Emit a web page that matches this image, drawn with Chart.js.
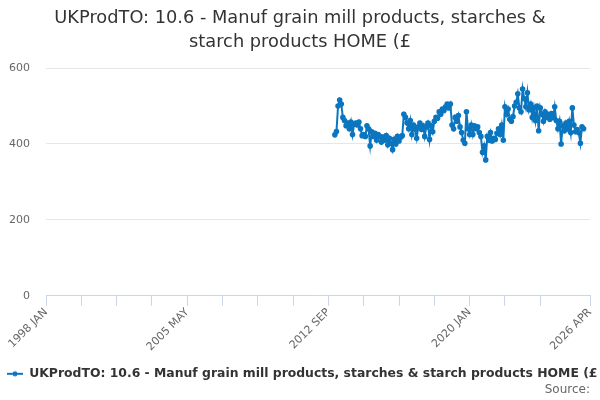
<!DOCTYPE html>
<html>
<head>
<meta charset="utf-8">
<script src="https://cdn.jsdelivr.net/npm/chart.js@4"></script>
<style>
  html, body { margin: 0; padding: 0; background: #fff; }
  #wrap { width: 600px; height: 400px; }
</style>
</head>
<body>
<div id="wrap"><canvas id="prodChart"></canvas></div>
<script>
const seriesName = 'UKProdTO: 10.6 - Manuf grain mill products, starches & starch products HOME (£';
const titleLines = ['UKProdTO: 10.6 - Manuf grain mill products, starches &', 'starch products HOME (£'];
const sourceText = 'Source:';
const monthNames = ['JAN', 'FEB', 'MAR', 'APR', 'MAY', 'JUN', 'JUL', 'AUG', 'SEP', 'OCT', 'NOV', 'DEC'];
const firstYear = 1998;
const monthCount = 340;          // 1998 JAN .. 2026 APR
const dataStart = 180;           // 2013 JAN
const tickIndexes = [0, 22, 44, 66, 88, 110, 132, 154, 176, 198, 220, 242, 264, 286, 308, 339];
const labelIndexes = [0, 88, 176, 264, 339];
const yTicks = [0, 200, 400, 600];

// monthly values, 2013 JAN .. 2025 DEC
const values = [
  424, 433, 500, 516, 505, 470, 462, 448, 455, 440, 458, 425,
  452, 455, 450, 458, 440, 422, 425, 420, 448, 440, 395, 432,
  420, 428, 410, 425, 420, 405, 418, 410, 422, 398, 415, 402,
  385, 412, 400, 420, 408, 418, 422, 478, 470, 455, 440, 462,
  425, 450, 438, 415, 445, 455, 438, 448, 420, 445, 455, 412,
  448, 432, 460, 470, 468, 485, 478, 492, 488, 498, 505, 495,
  505, 450, 440, 470, 460, 475, 445, 430, 410, 402, 485, 440,
  425, 450, 425, 448, 440, 445, 430, 420, 378, 395, 358, 420,
  410, 430, 408, 415, 412, 428, 440, 425, 450, 410, 498, 478,
  492, 465, 460, 472, 500, 510, 532, 495, 485, 545, 520, 498,
  535, 490, 505, 470, 495, 462, 500, 435, 495, 478, 460, 485,
  470, 478, 465, 480, 470, 498, 462, 440, 460, 400, 448, 435,
  455, 440, 460, 430, 495, 450, 432, 438, 430, 402, 445, 440
];

const labels = [];
for (let i = 0; i < monthCount; i++) {
  labels.push((firstYear + Math.floor(i / 12)) + ' ' + monthNames[i % 12]);
}
const padded = labels.map((l, i) => {
  const v = values[i - dataStart];
  return v === undefined ? null : v;
});

const lineColor = '#0b76bf';

// legend symbol: short line with a dot, like the original
const legendIcon = document.createElement('canvas');
legendIcon.width = 22;
legendIcon.height = 8;
const ic = legendIcon.getContext('2d');
ic.strokeStyle = lineColor;
ic.lineWidth = 2;
ic.beginPath();
ic.moveTo(6, 4);
ic.lineTo(22, 4);
ic.stroke();
ic.fillStyle = lineColor;
ic.beginPath();
ic.arc(14, 4, 2.5, 0, Math.PI * 2);
ic.fill();

// nudge the legend down a little and write the source note under it
const footerPlugin = {
  id: 'footerBits',
  afterLayout(chart) {
    if (chart.legend) {
      chart.legend.top += 7;
      chart.legend.bottom += 7;
    }
  },
  afterDraw(chart) {
    const ctx = chart.ctx;
    ctx.save();
    ctx.font = '12px "DejaVu Sans", sans-serif';
    ctx.fillStyle = '#666';
    ctx.textAlign = 'right';
    ctx.textBaseline = 'middle';
    ctx.fillText(sourceText, chart.width - 10, 390);
    ctx.restore();
  }
};

Chart.defaults.font.family = '"DejaVu Sans", sans-serif';
Chart.defaults.color = '#666';

new Chart(document.getElementById('prodChart'), {
  type: 'line',
  data: {
    labels: labels,
    datasets: [{
      label: seriesName,
      data: padded,
      borderColor: lineColor,
      backgroundColor: lineColor,
      borderWidth: 2,
      pointRadius: 1.8,
      pointHoverRadius: 3,
      tension: 0,
      spanGaps: false
    }]
  },
  options: {
    responsive: true,
    maintainAspectRatio: false,
    animation: false,
    layout: { padding: { left: 0, right: 0, top: 0, bottom: 17 } },
    scales: {
      x: {
        type: 'category',
        offset: false,
        afterBuildTicks: (scale) => {
          scale.ticks = tickIndexes.map(v => ({ value: v }));
        },
        afterFit: (scale) => { scale.height += 6; },
        ticks: {
          autoSkip: false,
          maxRotation: 45,
          minRotation: 45,
          color: '#666',
          font: { size: 11 },
          padding: 0,
          callback: function (value) {
            return labelIndexes.includes(value) ? this.getLabelForValue(value) : '';
          }
        },
        grid: {
          drawOnChartArea: false,
          drawTicks: true,
          tickLength: 10,
          color: '#ccd6eb'
        },
        border: { color: '#ccd6eb' }
      },
      y: {
        min: 0,
        max: 600,
        afterBuildTicks: (scale) => {
          scale.ticks = yTicks.map(v => ({ value: v }));
        },
        afterFit: (scale) => { scale.width = 46; },
        ticks: { color: '#666', font: { size: 11 }, padding: 16 },
        grid: { color: '#e6e6e6', drawTicks: false },
        border: { display: false }
      },
      // empty right gutter so the title stays centred on the page
      gutter: {
        type: 'linear',
        position: 'right',
        display: true,
        ticks: { display: false },
        grid: { display: false },
        border: { display: false },
        afterFit: (scale) => { scale.width = 10; }
      }
    },
    plugins: {
      title: {
        display: true,
        text: titleLines,
        color: '#333',
        font: { size: 17.8, weight: 'normal', lineHeight: 1.35 },
        padding: { top: 6, bottom: 14 }
      },
      legend: {
        position: 'bottom',
        align: 'start',
        labels: {
          usePointStyle: true,
          pointStyle: legendIcon,
          pointStyleWidth: 22,
          color: '#333',
          font: { size: 12.4, weight: 'bold' },
          padding: 1
        }
      },
      tooltip: { enabled: false }
    }
  },
  plugins: [footerPlugin]
});
</script>
</body>
</html>
